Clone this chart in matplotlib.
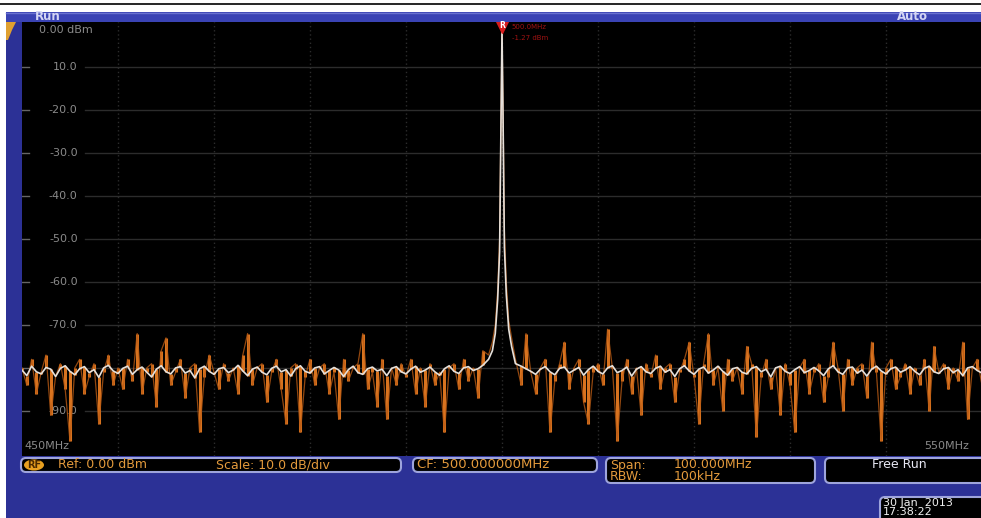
import numpy as np
import matplotlib.pyplot as plt
from matplotlib.patches import FancyBboxPatch, Rectangle, Ellipse, Polygon

# sweep settings
start_mhz = 450
stop_mhz = 550
grid_freqs = [460, 470, 480, 490, 500, 510, 520, 530, 540]
ref_levels = [0, -10, -20, -30, -40, -50, -60, -70, -80, -90]
ref_labels = ["0.00 dBm", "10.0", "-20.0", "-30.0", "-40.0", "-50.0",
              "-60.0", "-70.0", "", "-90.0"]

# orange trace (peak hold), one value every 0.5 MHz, dBm
orange_db = [
    -80, -84, -78, -86, -81, -77, -91, -82, -79, -85, -97, -80, -78, -86, -82, -79, -93, -81, -77, -84,
    -80, -85, -78, -83, -72, -86, -80, -79, -89, -76, -73, -84, -81, -78, -87, -80, -79, -95, -82, -77,
    -81, -85, -79, -83, -80, -86, -77, -72, -84, -80, -79, -88, -81, -78, -85, -93, -80, -79, -95, -82,
    -78, -84, -80, -79, -86, -81, -92, -78, -83, -80, -79, -72, -85, -81, -89, -78, -92, -80, -84, -79,
    -82, -78, -86, -80, -89, -79, -84, -81, -95, -80, -79, -85, -78, -83, -80, -87, -76, -74, -82, -78,
    -80, -80, -80, -79, -84, -72, -81, -86, -80, -78, -95, -83, -79, -74, -85, -80, -78, -88, -93, -81,
    -79, -84, -71, -80, -97, -83, -78, -86, -80, -91, -79, -82, -77, -85, -80, -79, -88, -81, -78, -74,
    -82, -93, -79, -72, -84, -80, -90, -78, -83, -80, -86, -75, -79, -96, -82, -78, -85, -80, -91, -79,
    -84, -95, -80, -78, -86, -81, -79, -88, -82, -74, -80, -90, -78, -84, -80, -79, -87, -74, -81, -97,
    -80, -78, -85, -82, -79, -86, -80, -84, -78, -90, -75, -81, -79, -85, -80, -83, -74, -92, -80, -78, -84,
]

# white trace (average), one value every 0.5 MHz, dBm
white_db = [
    -80.5, -81.8, -79.6, -80.9, -81.4, -79.9, -80.3, -82.0, -80.1, -79.5, -80.8, -81.6, -80.2, -79.7, -81.1, -80.4, -82.2, -80.0, -79.4, -80.7,
    -81.3, -80.1, -79.6, -81.5, -80.4, -79.8, -81.0, -82.1, -80.3, -79.5, -80.9, -81.4, -80.0, -79.7, -81.2, -80.6, -82.3, -80.2, -79.6, -80.8,
    -81.5, -80.2, -79.9, -81.1, -80.5, -79.4, -80.7, -81.8, -80.3, -79.8, -81.0, -81.6, -80.1, -79.6, -80.9, -80.4, -81.9, -80.2, -79.5, -80.8,
    -81.2, -80.0, -79.7, -81.4, -80.6, -79.9, -80.5, -82.0, -80.4, -79.6, -81.1, -81.5, -80.2, -79.8, -80.7, -80.3, -81.8, -80.1, -79.7, -80.9,
    -81.4, -80.3, -79.6, -81.0, -80.5, -79.8, -80.9, -81.7, -80.2, -79.5, -80.8, -81.3, -80.0, -79.7, -80.6, -80.2, -79.4, -78.8, -78.0, -77.5,
    -77.0, -77.5, -78.2, -78.9, -79.6, -80.2, -80.8, -81.5, -80.3, -79.7, -80.9, -81.6, -80.1, -79.8, -81.2, -80.5, -79.9, -81.7, -80.4, -79.6,
    -80.8, -81.4, -80.0, -79.5, -81.1, -80.6, -79.8, -81.9, -80.3, -79.7, -80.9, -81.3, -80.1, -79.6, -81.0, -80.4, -82.0, -80.2, -79.5, -80.7,
    -81.5, -80.3, -79.8, -81.2, -80.5, -79.6, -80.8, -81.7, -80.2, -79.9, -81.0, -81.4, -80.1, -79.7, -80.9, -80.3, -82.1, -80.0, -79.6, -80.8,
    -81.3, -80.4, -79.7, -81.1, -80.6, -79.9, -80.7, -81.8, -80.2, -79.5, -80.9, -81.5, -80.0, -79.8, -81.2, -80.5, -81.9, -80.3, -79.6, -80.7,
    -81.4, -80.2, -79.8, -81.0, -80.5, -79.7, -80.8, -81.6, -80.1, -79.6, -80.9, -81.3, -80.2, -79.9, -81.1, -80.4, -81.8, -80.0, -79.7, -80.6, -81.2,
]

# the carrier at 500 MHz, finer steps
peak_freq = [498.6, 499.0, 499.3, 499.55, 499.75, 499.9, 500.0, 500.1, 500.25, 500.45, 500.7, 501.0, 501.4]
peak_orange = [-77, -74, -70, -62, -50, -20, -1.3, -18, -48, -60, -69, -73, -78]
peak_white = [-78, -76, -72, -64, -53, -22, -1.3, -20, -52, -63, -71, -75, -79]

BLUE = "#2c3196"
BAR = "#3a43b4"
EDGE = "#9ea4dc"
ORANGE_TXT = "#e39a3c"
GRID = "#2c2c2c"


def merge_peak(noise, peak):
    # noise bins outside the carrier, carrier points inside
    f = np.linspace(start_mhz, stop_mhz, len(noise))
    keep = (f < 498.5) | (f > 501.5)
    fx = np.concatenate([f[keep], peak_freq])
    yy = np.concatenate([np.array(noise)[keep], peak])
    order = np.argsort(fx)
    return fx[order], yy[order]


fig = plt.figure(figsize=(9.81, 5.18), dpi=100)
fig.patch.set_facecolor("white")

# background layer in pixel coordinates
bg = fig.add_axes([0, 0, 1, 1], zorder=0)
bg.set_xlim(0, 981)
bg.set_ylim(518, 0)
bg.axis("off")
bg.plot([0, 981], [4, 4], color="black", lw=1.2)
bg.add_patch(Rectangle((6, 12), 975, 506, facecolor=BLUE, edgecolor="none"))
bg.add_patch(Rectangle((6, 12), 975, 10, facecolor=BAR, edgecolor="none"))
bg.plot([6, 981], [12.5, 12.5], color="#6a72d0", lw=1)
bg.add_patch(Polygon([[6, 22], [16, 22], [12, 30], [8, 40], [6, 40]],
                     facecolor="#e0a030", edgecolor="none"))
bg.text(35, 17, "Run", color="#d4d6f4", fontsize=8.5, fontweight="bold", va="center")
bg.text(897, 17, "Auto", color="#d4d6f4", fontsize=8.5, fontweight="bold", va="center")

# status boxes along the bottom
boxes = [(21, 458, 380, 14), (413, 458, 184, 14), (606, 458, 209, 25), (825, 458, 170, 25),
         (880, 497, 110, 30)]
for x, y, w, h in boxes:
    bg.add_patch(FancyBboxPatch((x, y), w, h, boxstyle="round,pad=0,rounding_size=5",
                                facecolor="black", edgecolor=EDGE, lw=1.5))
bg.add_patch(Ellipse((34, 465), 20, 11, facecolor="#e8a020", edgecolor="none"))
bg.text(34, 465.5, "RF", color="#4a2a00", fontsize=7, fontweight="bold", ha="center", va="center")
bg.text(58, 465, "Ref: 0.00 dBm", color=ORANGE_TXT, fontsize=9, va="center")
bg.text(216, 465, "Scale: 10.0 dB/div", color=ORANGE_TXT, fontsize=9, va="center")
bg.text(417, 465, "CF: 500.000000MHz", color=ORANGE_TXT, fontsize=9.5, va="center")
bg.text(610, 465, "Span:", color=ORANGE_TXT, fontsize=9, va="center")
bg.text(674, 465, "100.000MHz", color=ORANGE_TXT, fontsize=9, va="center")
bg.text(610, 477, "RBW:", color=ORANGE_TXT, fontsize=9, va="center")
bg.text(674, 477, "100kHz", color=ORANGE_TXT, fontsize=9, va="center")
bg.text(872, 465, "Free Run", color="#e8e8f4", fontsize=9, va="center")
bg.text(883, 503, "30 Jan  2013", color="#f0f0f0", fontsize=8, va="center")
bg.text(883, 512, "17:38:22", color="#f0f0f0", fontsize=8, va="center")

# the spectrum display
ax = fig.add_axes([22 / 981, 1 - 456 / 518, 960 / 981, 434 / 518], zorder=1)
ax.set_facecolor("black")
ax.set_xlim(start_mhz, stop_mhz)
ax.set_ylim(-100.5, 0.5)
ax.set_xticks([])
ax.set_yticks([])
for s in ax.spines.values():
    s.set_visible(False)

for f in grid_freqs:
    ax.axvline(f, color=GRID, lw=1, ls=(0, (1, 2)))
ytr = ax.get_yaxis_transform()
for lv, lab in zip(ref_levels, ref_labels):
    if lv != 0:
        ax.axhline(lv, xmin=0.066, color=GRID, lw=1)
        ax.axhline(lv, xmin=0, xmax=0.007, color="#666666", lw=1)
    if lab:
        va = "top" if lv == 0 else "center"
        ax.text(0.058 if lv else 0.018, lv - (0.3 if lv == 0 else 0), lab,
                transform=ytr, color="#8a8a8a", fontsize=8,
                ha="right" if lv else "left", va=va)

fo, yo = merge_peak(orange_db, peak_orange)
fw, yw = merge_peak(white_db, peak_white)

# orange spikes rise and drop from the averaged trace
f_bins = np.linspace(start_mhz, stop_mhz, len(orange_db))
off = (f_bins < 498.5) | (f_bins > 501.5)
ax.vlines(f_bins[off], np.array(white_db)[off], np.array(orange_db)[off],
          color="#d8731f", lw=2.2, zorder=3)
ax.plot(fo, yo, color="#b85a14", lw=0.9, alpha=0.8, zorder=3)
ax.plot(fw, yw, color="#e6e0da", lw=1.2, zorder=4)

ax.text(0.003, -98.2, "450MHz", transform=ytr, color="#8a8a8a", fontsize=8, va="center")
ax.text(0.94, -98.2, "550MHz", transform=ytr, color="#8a8a8a", fontsize=8, va="center")

# reference marker on the carrier
ax.plot(500, -0.6, marker="v", ms=9, color="#d81c1c", zorder=5)
ax.text(500, -0.3, "R", color="white", fontsize=5.5, fontweight="bold",
        ha="center", va="center", zorder=6)
ax.text(501, -0.6, "500.0MHz", color="#a01212", fontsize=5, va="center")
ax.text(501, -3.3, "-1.27 dBm", color="#a01212", fontsize=5, va="center")

fig.savefig("out.png", dpi=100, facecolor=fig.get_facecolor())
